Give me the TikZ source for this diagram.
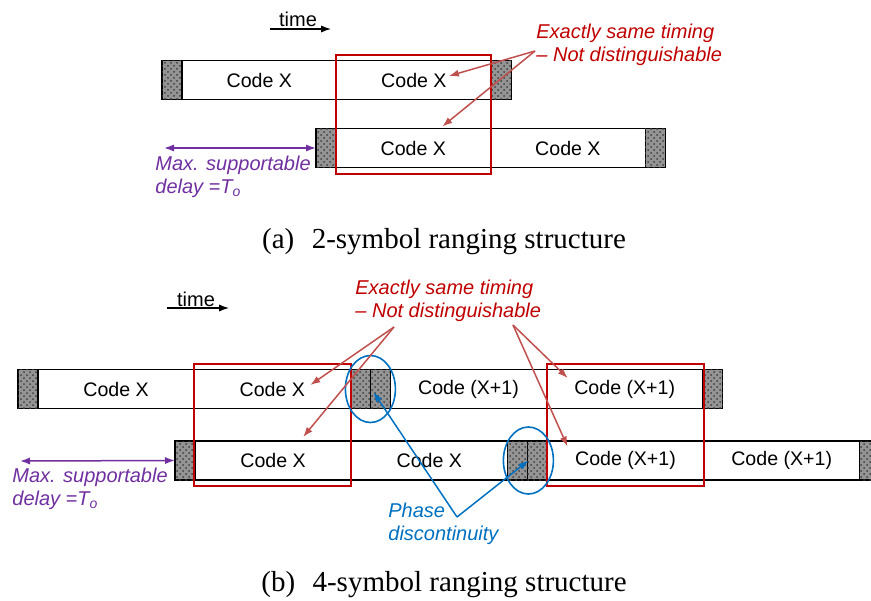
\documentclass[tikz,border=0pt]{standalone}
\usepackage{fontspec}
\setmainfont{Liberation Serif}
\setsansfont{Liberation Sans}
\usetikzlibrary{arrows.meta,positioning,fit,calc,patterns,shapes.geometric}

\definecolor{boxred}{HTML}{C00000}
\definecolor{arrowred}{HTML}{C0504D}
\definecolor{delaypurple}{HTML}{7030A0}
\definecolor{phaseblue}{HTML}{0070C0}

\tikzset{
        code/.style={ % one code symbol, width given as argument
            draw, line width=0.6pt, outer sep=0pt,
            minimum width=#1, minimum height=19.5pt, inner sep=0pt,
            font=\sffamily\fontsize{9.8}{11}\selectfont},
        code/.default=77.3pt,
        guard/.style={ % grey guard interval
            draw, line width=0.6pt, outer sep=0pt,
            minimum width=10pt, minimum height=19.5pt, inner sep=0pt,
            fill=black!42,
            postaction={pattern=crosshatch dots, pattern color=black!75}},
        window/.style={ % red observation window
            draw=boxred, line width=1pt, inner xsep=0pt, inner ysep=3pt},
        phase/.style={ % blue circle on the discontinuity
            draw=phaseblue, line width=0.8pt, ellipse,
            minimum width=25pt, minimum height=33.5pt, inner sep=0pt},
        note/.style={
            inner sep=0pt, align=left,
            font=\sffamily\itshape\fontsize{10}{11.5}\selectfont},
        caption/.style={font=\fontsize{14.5}{16}\selectfont},
        every edge/.style={ % pointer arrows
            draw, ->, >={Latex[length=5pt,width=3.6pt]},
            line width=0.75pt}
        }

\begin{document}
\begin{tikzpicture}[x=0.5pt, y=-0.5pt, node distance=0pt]
    \useasboundingbox (0,0) rectangle (871,600);
    \clip (0,0) rectangle (871,600);

    % (a) 2-symbol ranging
    \node (ta) at (298,19) {\sffamily\fontsize{10}{11}\selectfont time};
    \coordinate (ta0) at (270,29);
    \coordinate (ta1) at (331,29);
    \draw (ta0) edge[line width=0.6pt] (ta1);

    \node[guard, anchor=west] (a1g1) at (162,80) {};
    \node[code, right=of a1g1] (a1x1) {Code X};
    \node[code, right=of a1x1] (a1x2) {Code X};
    \node[guard, right=of a1x2] (a1g2) {};

    \node[guard, anchor=west] (a2g1) at (316,148) {};
    \node[code, right=of a2g1] (a2x1) {Code X};
    \node[code, right=of a2x1] (a2x2) {Code X};
    \node[guard, right=of a2x2] (a2g2) {};

    \node[window, fit=(a1x2)(a2x1)] (wa) {};

    \node[note, text=boxred, anchor=north west] (sa) at (536,24)
        {Exactly same timing\\– Not distinguishable};
    \coordinate (ja) at (535,51);
    \draw[arrowred] (ja) edge ($(a1x2.center)+(35,-4)$)
                         edge ($(a2x1.north)+(29,-2)$);

    \coordinate (da) at (164,148);
    \draw[delaypurple] (a2g1.west) edge[<->] (da);
    \node[note, text=delaypurple, anchor=north west] (ma) at (155,156)
        {Max. supportable\\delay =T\textsubscript{o}};

    \node[caption] (capa) at (444,242) {(a)\hspace{0.6em}2-symbol ranging structure};

    % (b) 4-symbol ranging
    \node (tb) at (196,299) {\sffamily\fontsize{10}{11}\selectfont time};
    \coordinate (tb0) at (167,308);
    \coordinate (tb1) at (229,308);
    \draw (tb0) edge[line width=0.6pt] (tb1);

    \node[guard, anchor=west] (b1g1) at (18,389) {};
    \node[code=78.1pt, right=of b1g1] (b1x1) {Code X};
    \node[code=78.1pt, right=of b1x1] (b1x2) {Code X};
    \node[guard, right=of b1x2] (b1g2) {};
    \node[guard, right=of b1g2] (b1g3) {};
    \node[code=78.1pt, right=of b1g3] (b1x3) {Code (X+1)};
    \node[code=78.1pt, right=of b1x3] (b1x4) {Code (X+1)};
    \node[guard, right=of b1x4] (b1g4) {};

    \node[guard, anchor=west] (b2g1) at (175,460.5) {};
    \node[code=78.1pt, right=of b2g1] (b2x1) {Code X};
    \node[code=78.1pt, right=of b2x1] (b2x2) {Code X};
    \node[guard, right=of b2x2] (b2g2) {};
    \node[guard, right=of b2g2] (b2g3) {};
    \node[code=78.1pt, right=of b2g3] (b2x3) {Code (X+1)};
    \node[code=78.1pt, right=of b2x3] (b2x4) {Code (X+1)};
    \node[guard, right=of b2x4] (b2g4) {};

    \node[window, fit=(b1x2)(b2x1)] (wb1) {};
    \node[window, fit=(b1x4)(b2x3)] (wb2) {};

    \node[phase] (pc1) at (b1g2.east) {};
    \node[phase] (pc2) at ($(b2g2.east)+(1,0)$) {};

    \node[note, text=boxred, anchor=north west] (sb) at (355,280)
        {Exactly same timing\\– Not distinguishable};
    \coordinate (jb1) at (394,327);
    \coordinate (jb2) at (513,325);
    \draw[arrowred] (jb1) edge ($(b1x2.center)+(38,-4)$)
                          edge ($(b2x1.north)+(30,-4)$);
    \draw[arrowred] (jb2) edge ($(b1x4.center)+(-57,-11)$)
                          edge ($(b2x3.center)+(-58,-14)$);

    \coordinate (db) at (20,461);
    \draw[delaypurple] (b2g1.west) edge[<->] (db);
    \node[note, text=delaypurple, anchor=north west] (mb) at (12,468)
        {Max. supportable\\delay =T\textsubscript{o}};

    \node[note, text=phaseblue, anchor=north west] (pn) at (388,503)
        {Phase\\discontinuity};
    \coordinate (pj) at (457,517);
    \draw[phaseblue] (pj) edge ($(pc1.center)+(3,3)$)
                          edge (pc2.center);

    \node[caption] (capb) at (444,585) {(b)\hspace{0.6em}4-symbol ranging structure};
\end{tikzpicture}
\end{document}
